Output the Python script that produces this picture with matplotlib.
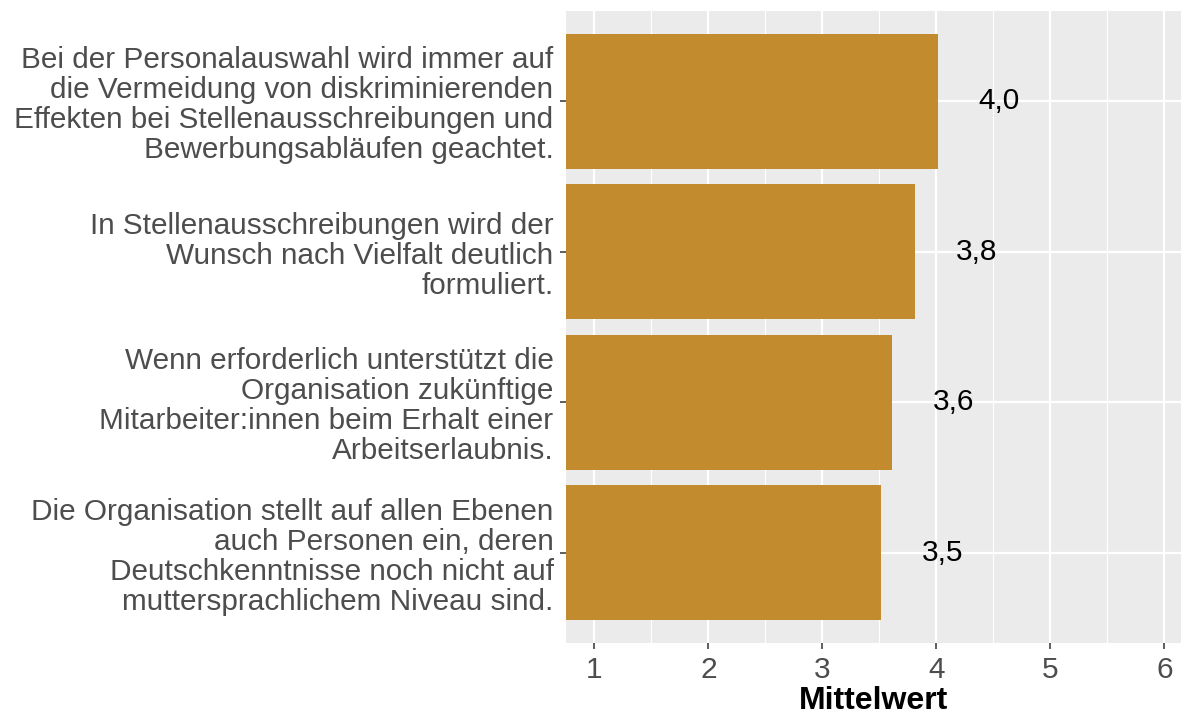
import matplotlib
matplotlib.use("Agg")
import matplotlib.pyplot as plt
from matplotlib.ticker import MultipleLocator

plt.rcParams['font.family'] = ['Liberation Sans', 'DejaVu Sans']

statements = [
    "Bei der Personalauswahl wird immer auf\ndie Vermeidung von diskriminierenden\nEffekten bei Stellenausschreibungen und\nBewerbungsabläufen geachtet.",
    "In Stellenausschreibungen wird der\nWunsch nach Vielfalt deutlich\nformuliert.",
    "Wenn erforderlich unterstützt die\nOrganisation zukünftige\nMitarbeiter:innen beim Erhalt einer\nArbeitserlaubnis.",
    "Die Organisation stellt auf allen Ebenen\nauch Personen ein, deren\nDeutschkenntnisse noch nicht auf\nmuttersprachlichem Niveau sind.",
]
means = [4.01, 3.81, 3.61, 3.51]
labels = ["4,0", "3,8", "3,6", "3,5"]

fig = plt.figure(figsize=(11.81, 7.18), dpi=100)
ax = fig.add_axes([566 / 1181, 1 - 643 / 718, 1 - 566 / 1181, (643 - 11) / 718])
ax.set_facecolor('#EBEBEB')

ypos = list(range(len(means)))
ax.barh(ypos, means, height=0.9, color='#C28C2E', zorder=2)
for y, m, lab in zip(ypos, means, labels):
    ax.text(m + 0.54, y, lab, ha='center', va='center', fontsize=21.5, color='black', zorder=3)

ax.set_xlim(0.75, 6.145)
ax.set_ylim(len(means) - 0.4, -0.6)
ax.xaxis.set_major_locator(MultipleLocator(1))
ax.xaxis.set_minor_locator(MultipleLocator(0.5))
ax.set_xticks([1, 2, 3, 4, 5, 6])
ax.set_yticks(ypos)
ax.set_yticklabels(statements, fontsize=21.4, color='#4D4D4D', linespacing=1.09, ha='right')
ax.tick_params(axis='x', labelsize=21.5, labelcolor='#4D4D4D', color='#333333', length=4, width=1.1, pad=5)
ax.tick_params(axis='y', color='#333333', length=4, width=1.1, pad=5)
ax.tick_params(axis='x', which='minor', length=0)

ax.grid(which='major', color='white', linewidth=1.6, zorder=0)
ax.grid(which='minor', axis='x', color='white', linewidth=0.8, zorder=0)
ax.set_axisbelow(True)
for s in ax.spines.values():
    s.set_visible(False)

ax.set_xlabel("Mittelwert", fontsize=23, fontweight='bold', color='black', labelpad=2)

fig.savefig("out.png", dpi=100)
